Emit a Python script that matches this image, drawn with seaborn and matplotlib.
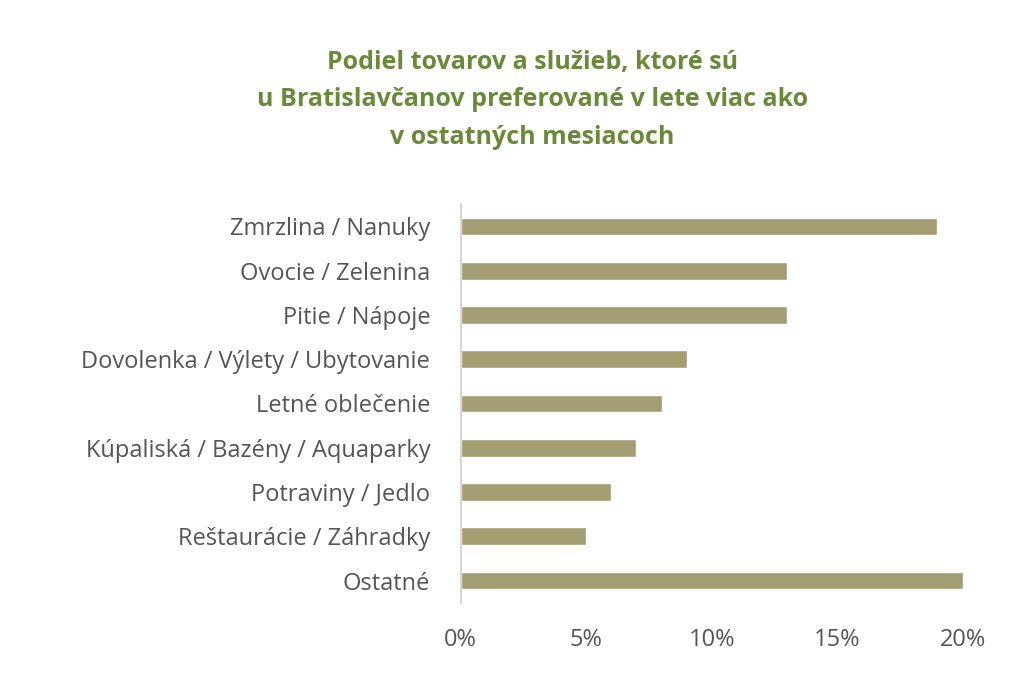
import matplotlib
matplotlib.use('Agg')
import matplotlib.pyplot as plt
import seaborn as sns
import pandas as pd

categories = ['Zmrzlina / Nanuky', 'Ovocie / Zelenina', 'Pitie / Nápoje',
              'Dovolenka / Výlety / Ubytovanie', 'Letné oblečenie',
              'Kúpaliská / Bazény / Aquaparky', 'Potraviny / Jedlo',
              'Reštaurácie / Záhradky', 'Ostatné']
values = [19, 13, 13, 9, 8, 7, 6, 5, 20]
ticks = [0, 5, 10, 15, 20]
tick_labels = ['0%', '5%', '10%', '15%', '20%']

df = pd.DataFrame({'cat': categories, 'val': values})

sns.set_theme(style='white')
plt.rcParams['font.family'] = ['Open Sans', 'DejaVu Sans']

fig = plt.figure(figsize=(10.24, 6.81), dpi=100)
ax = fig.add_axes([0.45, 0.115, 0.49, 0.585])
sns.barplot(data=df, x='val', y='cat', color='#a39d72', saturation=1,
            width=0.4, ax=ax)

ax.set_xlim(0, 20)
ax.set_xticks(ticks)
ax.set_xticklabels(tick_labels)
ax.set_xlabel('')
ax.set_ylabel('')
for s in ['top', 'right', 'bottom']:
    ax.spines[s].set_visible(False)
ax.spines['left'].set_color('#d0d0d0')
ax.tick_params(axis='both', length=0, labelsize=17, colors='#555555')
ax.tick_params(axis='x', pad=18)
ax.tick_params(axis='y', pad=22)

fig.text(0.52, 0.78,
         'Podiel tovarov a služieb, ktoré sú\nu Bratislavčanov preferované v lete viac ako\nv ostatných mesiacoch',
         ha='center', va='bottom', fontsize=18, fontweight='bold',
         color='#6a8a3a', linespacing=1.65)

fig.savefig('out.png', dpi=100)
